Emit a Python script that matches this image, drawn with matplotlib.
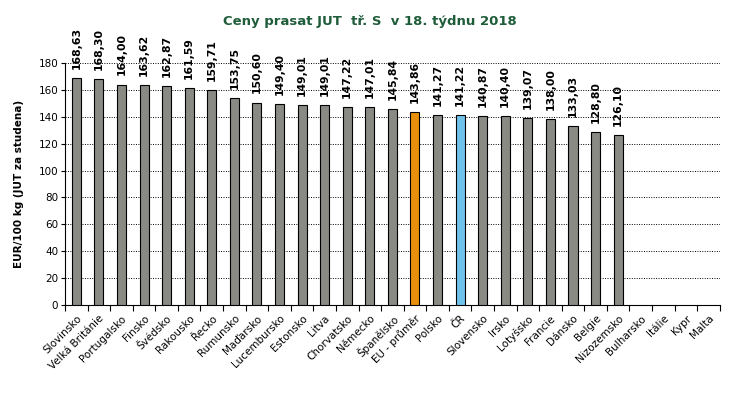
import matplotlib
matplotlib.use("Agg")
import matplotlib.pyplot as plt
import numpy as np

categories = ["Slovinsko", "Velká Británie", "Portugalsko", "Finsko", "Švédsko", "Rakousko",
              "Řecko", "Rumunsko", "Maďarsko", "Lucembursko", "Estonsko", "Litva",
              "Chorvatsko", "Německo", "Španělsko", "EU - průměr", "Polsko", "ČR",
              "Slovensko", "Irsko", "Lotyšsko", "Francie", "Dánsko", "Belgie",
              "Nizozemsko", "Bulharsko", "Itálie", "Kypr", "Malta"]
values = [168.63, 168.30, 164.00, 163.62, 162.87, 161.59, 159.71, 153.75, 150.60, 149.40,
          149.01, 149.01, 147.22, 147.01, 145.84, 143.86, 141.27, 141.22, 140.87, 140.40,
          139.07, 138.00, 133.03, 128.80, 126.10, None, None, None, None]
yticks = [0, 20, 40, 60, 80, 100, 120, 140, 160, 180]

gray = "#8a8a84"
orange = "#e8900c"
blue = "#6fc3ea"

fig = plt.figure(figsize=(7.34, 4.0), dpi=100)
ax = fig.add_axes([0.0886, 0.2375, 0.892, 0.605])

x = np.arange(len(categories))
for i, (c, v) in enumerate(zip(categories, values)):
    if v is None:
        continue
    col = orange if c == "EU - průměr" else (blue if c == "ČR" else gray)
    ax.bar(i, v, width=0.4, color=col, edgecolor="black", linewidth=0.8, zorder=3)
    ax.annotate(f"{v:.2f}".replace(".", ","), (i, v), xytext=(0, 6.5),
                textcoords="offset points", rotation=90, ha="center", va="bottom",
                fontsize=7.8, fontweight="bold", color="black", clip_on=False, zorder=4)

ax.set_xlim(-0.5, len(categories) - 0.5)
ax.set_ylim(0, 180)
ax.set_yticks(yticks)
ax.yaxis.grid(True, linestyle=(0, (1, 1.5)), color="black", linewidth=0.7, zorder=0)
ax.set_axisbelow(True)

ax.set_xticks(x)
ax.set_xticklabels(categories, rotation=45, ha="right", rotation_mode="anchor", fontsize=7.5)
ax.set_xticks(np.arange(-0.5, len(categories), 1), minor=True)
ax.tick_params(axis="x", which="major", length=0, pad=6)
ax.tick_params(axis="x", which="minor", length=4, width=0.8, direction="out")
ax.tick_params(axis="y", length=3, width=0.8, labelsize=7.5, pad=2)

for s in ["top", "right"]:
    ax.spines[s].set_visible(False)
ax.spines["left"].set_linewidth(0.8)
ax.spines["bottom"].set_linewidth(0.8)

ax.set_ylabel("EUR/100 kg (JUT za studena)", fontsize=7.5, fontweight="bold", labelpad=10)

fig.text(0.504, 0.945, "Ceny prasat JUT  tř. S  v 18. týdnu 2018", ha="center", va="center",
         fontsize=9.5, fontweight="bold", color="#1f5c3a")

fig.savefig("out.png", dpi=100)
